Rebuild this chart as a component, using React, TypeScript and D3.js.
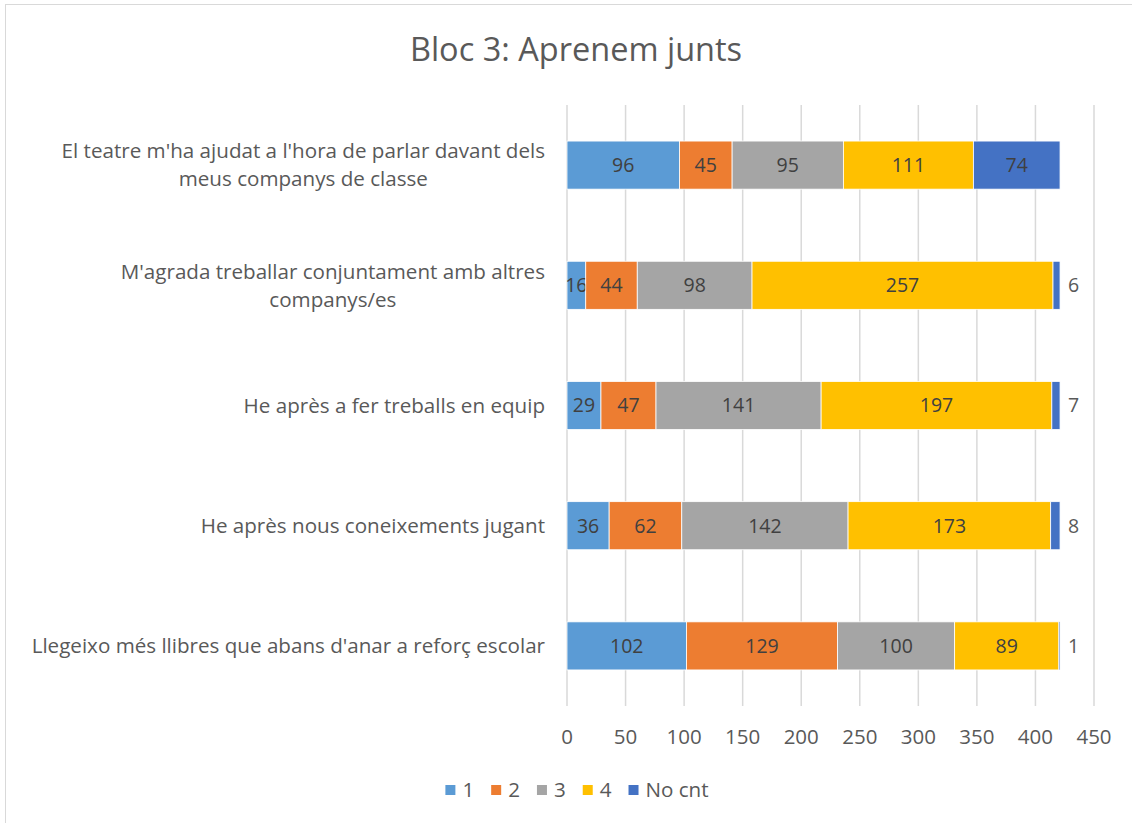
import React, { useEffect, useRef } from "react";
import * as d3 from "d3";

const categories: string[][] = [
  ["El teatre m'ha ajudat a l'hora de parlar davant dels", "meus companys de classe"],
  ["M'agrada treballar conjuntament amb altres", "companys/es"],
  ["He après a fer treballs en equip"],
  ["He après nous coneixements jugant"],
  ["Llegeixo més llibres que abans d'anar a reforç escolar"],
];
const seriesNames = ["1", "2", "3", "4", "No cnt"];
const values1 = [96, 16, 29, 36, 102];
const values2 = [45, 44, 47, 62, 129];
const values3 = [95, 98, 141, 142, 100];
const values4 = [111, 257, 197, 173, 89];
const valuesNoCnt = [74, 6, 7, 8, 1];
const seriesColors = ["#5B9BD5", "#ED7D31", "#A5A5A5", "#FFC000", "#4472C4"];
const xTicks = [0, 50, 100, 150, 200, 250, 300, 350, 400, 450];
const title = "Bloc 3: Aprenem junts";

const W = 1132;
const H = 823;
const FONT = "'Open Sans', sans-serif";

export default function App() {
  const ref = useRef<SVGSVGElement>(null);
  useEffect(() => {
    const svg = d3.select(ref.current!);
    svg.selectAll("*").remove();

    svg.append("rect").attr("x", 0).attr("y", 0).attr("width", W).attr("height", H).attr("fill", "#fff");
    svg.append("rect").attr("x", 5.5).attr("y", 4.5).attr("width", W + 20).attr("height", H + 20)
      .attr("fill", "none").attr("stroke", "#d9d9d9").attr("stroke-width", 1);

    const allSeries = [values1, values2, values3, values4, valuesNoCnt];
    const idx = categories.map((_, i) => String(i));

    const x = d3.scaleLinear().domain([0, 450]).range([567, 1094]);
    const y = d3.scaleBand<string>().domain(idx).range([105, 706]).paddingInner(0.6).paddingOuter(0.3);

    // title
    svg.append("text").attr("x", 576).attr("y", 61).attr("text-anchor", "middle")
      .attr("font-family", FONT).attr("font-size", 32.5).attr("fill", "#595959").text(title);

    // gridlines
    svg.append("g").selectAll("line").data(xTicks).join("line")
      .attr("x1", (d) => x(d)).attr("x2", (d) => x(d))
      .attr("y1", 105).attr("y2", 706)
      .attr("stroke", "#d9d9d9").attr("stroke-width", 1.5);

    // tick labels
    svg.append("g").selectAll("text").data(xTicks).join("text")
      .attr("x", (d) => x(d)).attr("y", 737).attr("dy", "0.35em").attr("text-anchor", "middle")
      .attr("font-family", FONT).attr("font-size", 20.5).attr("fill", "#595959")
      .text((d) => String(d));

    // stack
    const rows = idx.map((_, i) => {
      const r: any = { key: String(i) };
      seriesNames.forEach((s, j) => (r[s] = allSeries[j][i]));
      return r;
    });
    const stacked = d3.stack<any>().keys(seriesNames)(rows);

    stacked.forEach((layer, j) => {
      const g = svg.append("g");
      g.selectAll("rect").data(layer).join("rect")
        .attr("x", (d) => x(d[0]))
        .attr("y", (d) => y(d.data.key)!)
        .attr("width", (d) => x(d[1]) - x(d[0]))
        .attr("height", y.bandwidth())
        .attr("fill", seriesColors[j])
        .attr("stroke", "#fff").attr("stroke-width", 0.8);
      const isLast = j === seriesNames.length - 1;
      g.selectAll("text").data(layer).join("text")
        .attr("x", (d) => {
          const v = d[1] - d[0];
          if (isLast && v < 20) return x(d[1]) + 8;
          return (x(d[0]) + x(d[1])) / 2;
        })
        .attr("text-anchor", (d) => (isLast && d[1] - d[0] < 20 ? "start" : "middle"))
        .attr("y", (d) => y(d.data.key)! + y.bandwidth() / 2)
        .attr("dy", "0.35em")
        .attr("font-family", FONT).attr("font-size", 19.5)
        .attr("fill", (d) => (isLast && d[1] - d[0] < 20 ? "#595959" : "#404040"))
        .text((d) => String(d[1] - d[0]));
    });

    // category labels
    const labelRight = 545;
    const lineH = 28;
    categories.forEach((lines, i) => {
      const cy = y(String(i))! + y.bandwidth() / 2;
      const t = svg.append("text").attr("font-family", FONT).attr("font-size", 20.6)
        .attr("fill", "#595959").attr("text-anchor", "middle");
      const spans = lines.map((l, k) =>
        t.append("tspan").attr("y", cy + (k - (lines.length - 1) / 2) * lineH).attr("dy", "0.35em").text(l)
      );
      const maxW = d3.max(spans, (s) => (s.node() as SVGTextContentElement).getComputedTextLength()) || 0;
      spans.forEach((s) => s.attr("x", labelRight - maxW / 2));
    });

    // legend
    const lg = svg.append("g");
    let cx = 0;
    const sq = 10;
    const gap = 17;
    seriesNames.forEach((s, j) => {
      const it = lg.append("g");
      it.append("rect").attr("x", cx).attr("y", 790 - sq / 2).attr("width", sq).attr("height", sq).attr("fill", seriesColors[j]);
      const tt = it.append("text").attr("x", cx + sq + 7).attr("y", 790).attr("dy", "0.35em")
        .attr("font-family", FONT).attr("font-size", 20.6).attr("fill", "#595959").text(s);
      const tw = (tt.node() as SVGTextContentElement).getComputedTextLength();
      cx += sq + 7 + tw + gap;
    });
    const total = cx - gap;
    lg.attr("transform", `translate(${577 - total / 2},0)`);
  }, []);
  return (
    <svg ref={ref} width={W} height={H} style={{ position: "absolute", left: 0, top: 0, display: "block" }} />
  );
}
